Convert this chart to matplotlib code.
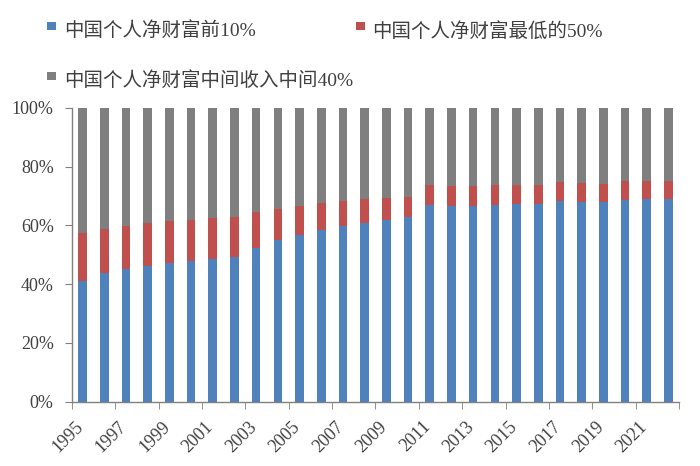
import matplotlib
matplotlib.use("Agg")
import matplotlib.pyplot as plt
import matplotlib.patches as mpatches
import matplotlib.transforms as mtransforms
import numpy as np

years = list(range(1995, 2023))
top10 = [41.1, 43.7, 45.1, 46.1, 47.2, 48.0, 48.6, 49.1, 52.3, 55.0, 56.8, 58.6, 59.9, 60.9,
         61.9, 62.7, 66.9, 66.6, 66.6, 66.9, 67.4, 67.4, 68.3, 68.1, 67.9, 68.7, 68.9, 68.9]
bottom50 = [16.2, 15.0, 14.7, 14.6, 14.2, 13.9, 13.8, 13.6, 12.2, 10.7, 9.9, 8.9, 8.3, 8.0,
            7.5, 7.0, 6.8, 6.7, 6.7, 6.8, 6.5, 6.5, 6.4, 6.4, 6.3, 6.3, 6.1, 6.1]
middle40 = [42.7, 41.3, 40.2, 39.3, 38.6, 38.1, 37.6, 37.3, 35.5, 34.3, 33.3, 32.5, 31.8, 31.1,
            30.6, 30.3, 26.3, 26.7, 26.7, 26.3, 26.1, 26.1, 25.3, 25.5, 25.8, 25.0, 25.0, 25.0]
series_names = ["中国个人净财富前10%", "中国个人净财富最低的50%", "中国个人净财富中间收入中间40%"]
colors = ["#4F81BD", "#C0504D", "#7F7F7F"]
yticks = [0, 20, 40, 60, 80, 100]

FONT = ["Liberation Serif", "Noto Sans CJK SC"]
TXT = "#404040"
plt.rcParams["font.family"] = FONT

fig = plt.figure(figsize=(7, 4.66), dpi=100)
W, H = 700, 466
ax = fig.add_axes([71.7 / W, 1 - 401.5 / H, (679.3 - 71.7) / W, (401.5 - 108) / H])

x = np.arange(len(years))
bw = 0.4
ax.bar(x, top10, bw, color=colors[0], label=series_names[0])
ax.bar(x, bottom50, bw, bottom=top10, color=colors[1], label=series_names[1])
base3 = np.array(top10) + np.array(bottom50)
ax.bar(x, middle40, bw, bottom=base3, color=colors[2], label=series_names[2])

ax.set_xlim(-0.5, len(years) - 0.5)
ax.set_ylim(0, 100)
ax.set_yticks(yticks)
ax.set_yticklabels([f"{v}%" for v in yticks], fontsize=13, color=TXT)
ax.tick_params(axis="y", direction="out", length=5, color="#808080", pad=8)

ax.set_xticks(x[::2])
ax.set_xticklabels([str(y) for y in years[::2]], rotation=45, ha="right", va="top",
                   fontsize=13, color=TXT)
ax.set_xticks(np.arange(-0.5, len(years), 2), minor=True)
ax.tick_params(axis="x", which="major", length=0, pad=12)
ax.tick_params(axis="x", which="minor", direction="out", length=5, color="#808080")
offset = mtransforms.ScaledTranslation(4 / 100, 0, fig.dpi_scale_trans)
for lab in ax.get_xticklabels():
    lab.set_transform(lab.get_transform() + offset)

for s in ["top", "right"]:
    ax.spines[s].set_visible(False)
for s in ["left", "bottom"]:
    ax.spines[s].set_color("#808080")
    ax.spines[s].set_linewidth(1.0)

# legend entries placed manually (pixel positions from top-left)
entries = [(47, 22, 64, 31), (356, 22, 372, 31), (47, 72, 64, 81)]
for (sx, sy, tx, ty), name, col in zip(entries, series_names, colors):
    r = mpatches.Rectangle((sx / W, 1 - (sy + 8) / H), 8.5 / W, 8 / H,
                           transform=fig.transFigure, facecolor=col, edgecolor="none")
    fig.patches.append(r)
    fig.text(tx / W, 1 - ty / H, name, fontsize=14, color=TXT, va="center", ha="left",
             family=FONT)

fig.savefig("out.png", dpi=100)
